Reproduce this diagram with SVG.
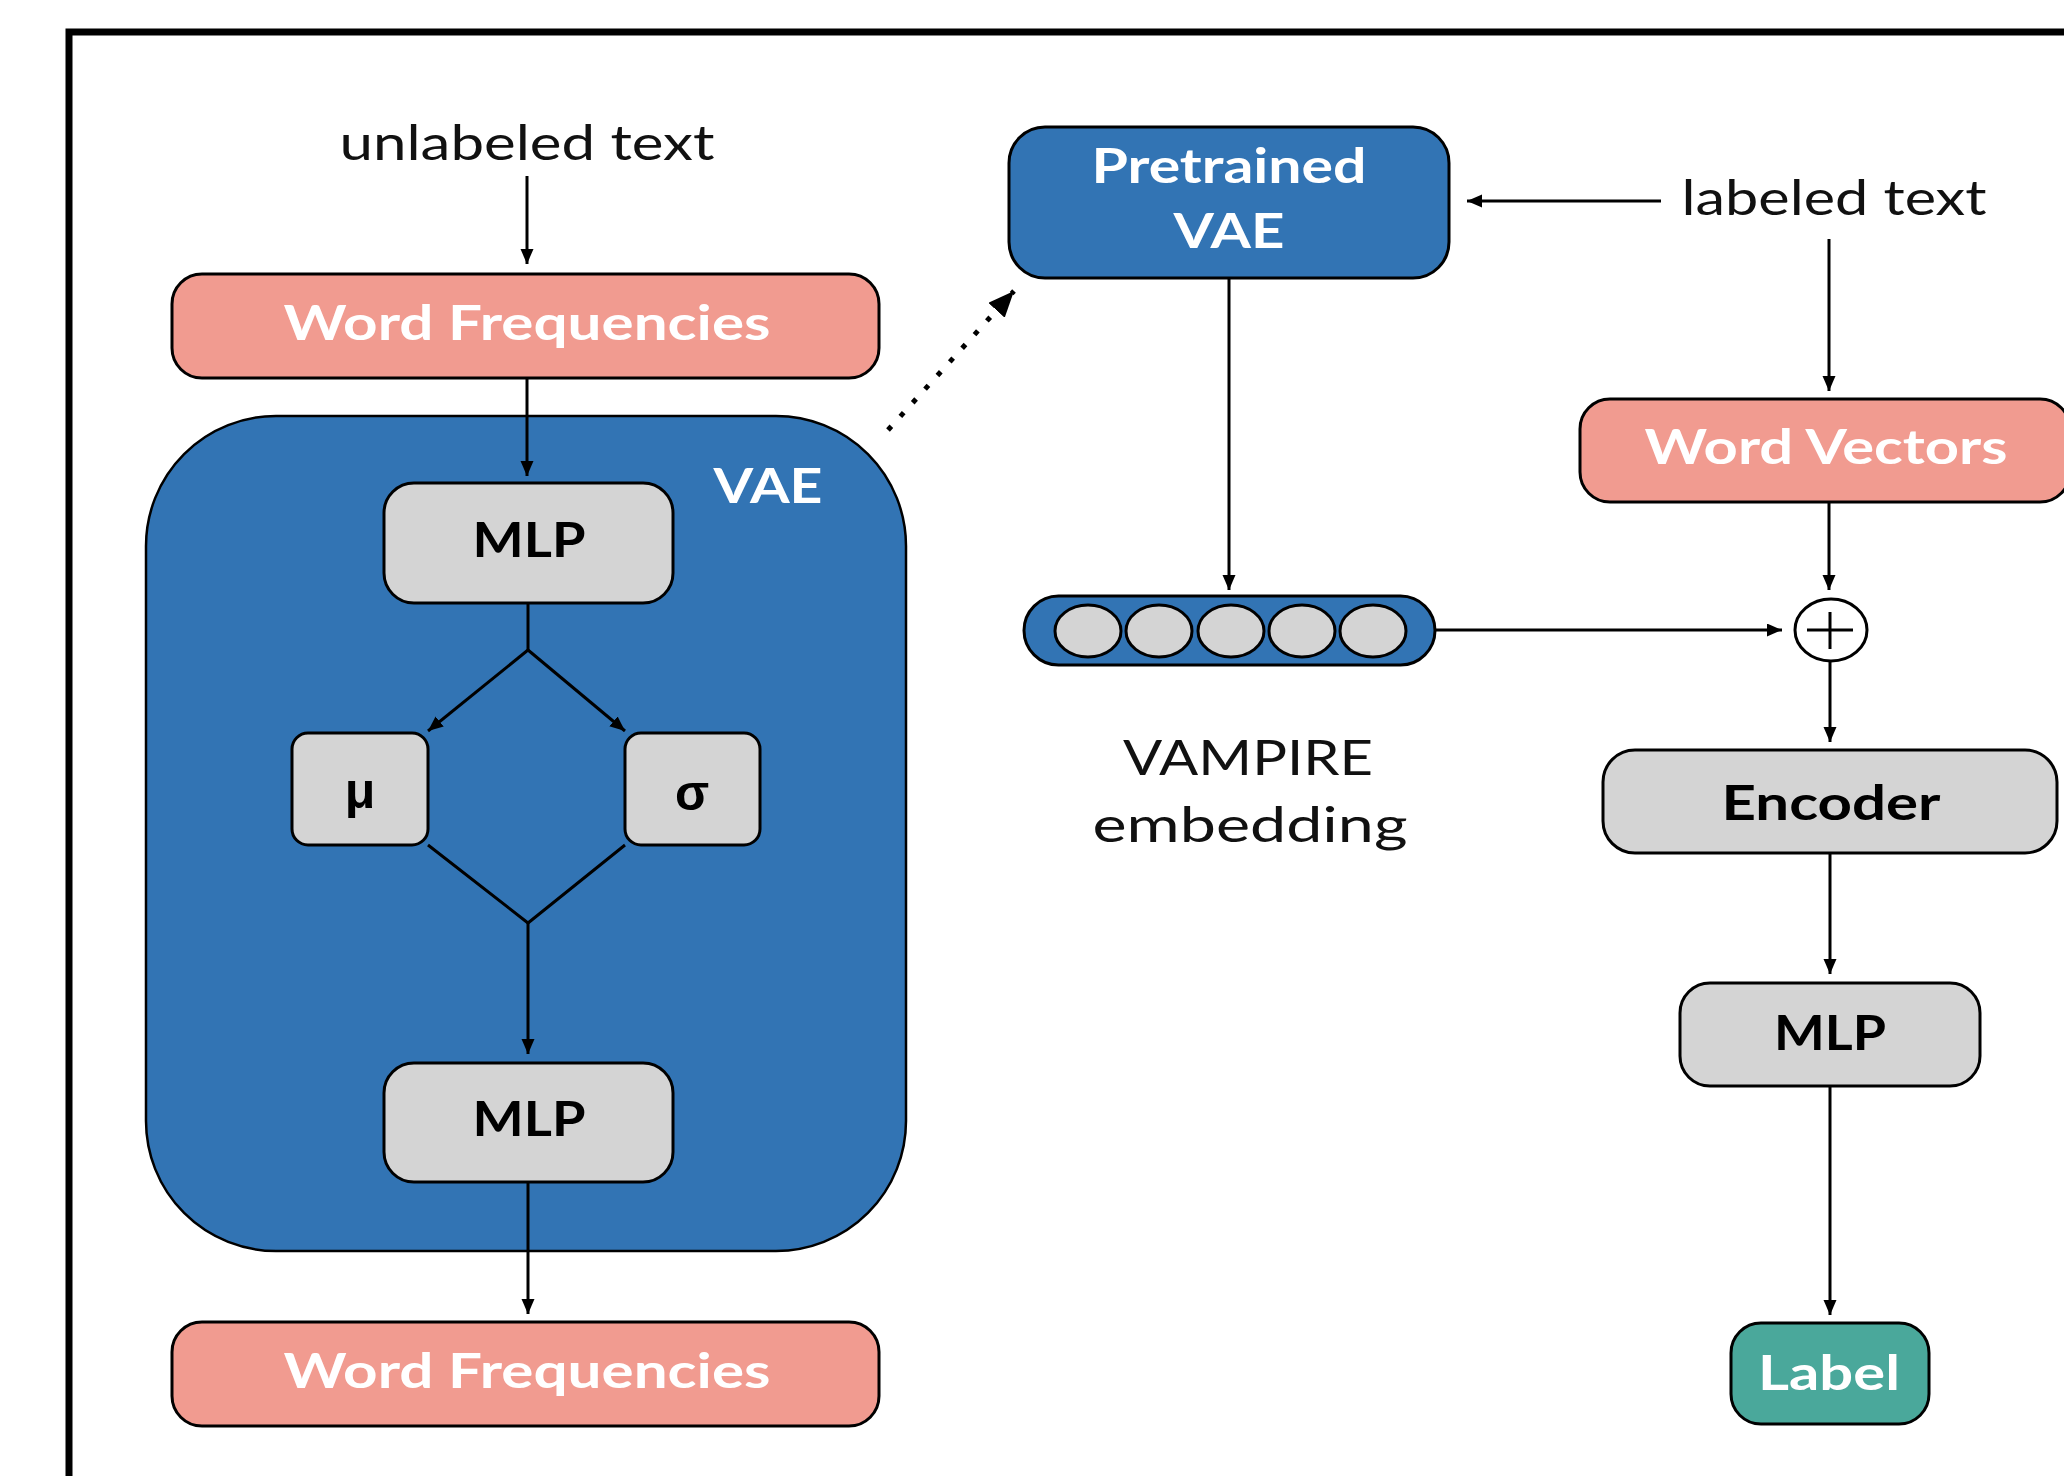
<svg xmlns="http://www.w3.org/2000/svg" width="2064" height="1476" viewBox="0 0 2064 1476">
  <defs>
    <marker id="arrow" markerUnits="userSpaceOnUse" markerWidth="16" markerHeight="14" refX="15" refY="6.5" orient="auto">
      <path d="M0,0 L15,6.5 L0,13 z" fill="#000"/>
    </marker>
    <marker id="arrow-big" markerUnits="userSpaceOnUse" markerWidth="28" markerHeight="24" refX="26" refY="11" orient="auto">
      <path d="M0,0 L26,11 L0,22 z" fill="#000"/>
    </marker>
    <style>
      .frame { fill: none; stroke: #000; stroke-width: 7; }
      .box { stroke: #000; stroke-width: 3; }
      .salmon { fill: #F19B90; }
      .blue { fill: #3274B4; }
      .gray { fill: #D4D4D4; }
      .teal { fill: #4AA89B; }
      .edge { fill: none; stroke: #000; stroke-width: 3; }
      .dotted { fill: none; stroke: #000; stroke-width: 5; stroke-dasharray: 5 13.4; }
      .lbl { font-family: Lato, "Liberation Sans", sans-serif; font-weight: 700; font-size: 47px; text-anchor: middle; }
      .white { fill: #fff; }
      .dark { fill: #000; }
      .plain { font-family: Lato, "Liberation Sans", sans-serif; font-weight: 400; font-size: 48px; text-anchor: middle; fill: #111; }
      .greek { font-family: "Liberation Sans", "DejaVu Sans", sans-serif; font-weight: 700; font-size: 50px; text-anchor: middle; fill: #000; }
    </style>
  </defs>

  <rect width="2064" height="1476" fill="#fff"/>
  <rect class="frame" x="69" y="32" width="2100" height="1500"/>

  <!-- free-standing captions -->
  <g id="unlabeled-text">
    <text class="plain" x="527" y="160" textLength="375" lengthAdjust="spacingAndGlyphs">unlabeled text</text>
  </g>
  <g id="labeled-text">
    <text class="plain" x="1834" y="215" textLength="305" lengthAdjust="spacingAndGlyphs">labeled text</text>
  </g>
  <g id="vampire-caption">
    <text class="plain" x="1248" y="775" textLength="250" lengthAdjust="spacingAndGlyphs">VAMPIRE</text>
    <text class="plain" x="1250" y="842" textLength="315" lengthAdjust="spacingAndGlyphs">embedding</text>
  </g>

  <!-- left column: VAE training -->
  <g id="vae">
    <rect class="blue" stroke="#000" stroke-width="2.5" x="146" y="416" width="760" height="835" rx="130"/>
    <text class="lbl white" x="768" y="503" textLength="109" lengthAdjust="spacingAndGlyphs">VAE</text>
  </g>
  <g id="word-frequencies-in">
    <rect class="box salmon" x="172" y="274" width="707" height="104" rx="30"/>
    <text class="lbl white" x="527" y="340" textLength="487" lengthAdjust="spacingAndGlyphs">Word Frequencies</text>
  </g>
  <g id="mlp-encoder">
    <rect class="box gray" x="384" y="483" width="289" height="120" rx="30"/>
    <text class="lbl dark" x="529" y="557" textLength="113" lengthAdjust="spacingAndGlyphs">MLP</text>
  </g>
  <g id="mu">
    <rect class="box gray" x="292" y="733" width="136" height="112" rx="16"/>
    <text class="greek" x="360" y="808">μ</text>
  </g>
  <g id="sigma">
    <rect class="box gray" x="625" y="733" width="135" height="112" rx="16"/>
    <text class="greek" x="692" y="810">σ</text>
  </g>
  <g id="mlp-decoder">
    <rect class="box gray" x="384" y="1063" width="289" height="119" rx="30"/>
    <text class="lbl dark" x="529" y="1136" textLength="113" lengthAdjust="spacingAndGlyphs">MLP</text>
  </g>
  <g id="word-frequencies-out">
    <rect class="box salmon" x="172" y="1322" width="707" height="104" rx="30"/>
    <text class="lbl white" x="527" y="1388" textLength="487" lengthAdjust="spacingAndGlyphs">Word Frequencies</text>
  </g>

  <!-- middle: pretrained model and embedding -->
  <g id="pretrained-vae">
    <rect class="box blue" x="1009" y="127" width="440" height="151" rx="36"/>
    <text class="lbl white" x="1229" y="183" textLength="275" lengthAdjust="spacingAndGlyphs">Pretrained</text>
    <text class="lbl white" x="1229" y="248" textLength="111" lengthAdjust="spacingAndGlyphs">VAE</text>
  </g>
  <g id="vampire-embedding">
    <rect class="box blue" x="1024" y="596" width="411" height="69" rx="34.5"/>
    <g class="gray" stroke="#000" stroke-width="3">
      <ellipse cx="1088" cy="631" rx="33" ry="26"/>
      <ellipse cx="1159" cy="631" rx="33" ry="26"/>
      <ellipse cx="1231" cy="631" rx="33" ry="26"/>
      <ellipse cx="1302" cy="631" rx="33" ry="26"/>
      <ellipse cx="1373" cy="631" rx="33" ry="26"/>
    </g>
  </g>

  <!-- right column: classifier -->
  <g id="word-vectors">
    <rect class="box salmon" x="1580" y="399" width="490" height="103" rx="30"/>
    <text class="lbl white" x="1826" y="464" textLength="363" lengthAdjust="spacingAndGlyphs">Word Vectors</text>
  </g>
  <g id="concat">
    <ellipse cx="1831" cy="630" rx="36" ry="31" fill="#fff" stroke="#000" stroke-width="3"/>
    <path d="M1807,630 H1853 M1830,612 V649" stroke="#000" stroke-width="3"/>
  </g>
  <g id="encoder">
    <rect class="box gray" x="1603" y="750" width="454" height="103" rx="32"/>
    <text class="lbl dark" x="1831" y="820" textLength="219" lengthAdjust="spacingAndGlyphs">Encoder</text>
  </g>
  <g id="mlp-classifier">
    <rect class="box gray" x="1680" y="983" width="300" height="103" rx="30"/>
    <text class="lbl dark" x="1830" y="1050" textLength="112" lengthAdjust="spacingAndGlyphs">MLP</text>
  </g>
  <g id="label">
    <rect class="box teal" x="1731" y="1323" width="198" height="101" rx="30"/>
    <text class="lbl white" x="1829" y="1390" textLength="142" lengthAdjust="spacingAndGlyphs">Label</text>
  </g>

  <!-- connectors -->
  <g id="connectors">
    <path class="edge" d="M527,176 V264" marker-end="url(#arrow)"/>
    <path class="edge" d="M527,378 V476" marker-end="url(#arrow)"/>
    <path class="edge" d="M528,603 V650"/>
    <path class="edge" d="M528,650 L428,731" marker-end="url(#arrow)"/>
    <path class="edge" d="M528,650 L625,731" marker-end="url(#arrow)"/>
    <path class="edge" d="M428,845 L528,923 L625,845"/>
    <path class="edge" d="M528,923 V1054" marker-end="url(#arrow)"/>
    <path class="edge" d="M528,1182 V1314" marker-end="url(#arrow)"/>
    <path class="dotted" d="M888,430 L1014,291" marker-end="url(#arrow-big)"/>
    <path class="edge" d="M1661,201 H1467" marker-end="url(#arrow)"/>
    <path class="edge" d="M1829,239 V391" marker-end="url(#arrow)"/>
    <path class="edge" d="M1229,278 V590" marker-end="url(#arrow)"/>
    <path class="edge" d="M1829,502 V590" marker-end="url(#arrow)"/>
    <path class="edge" d="M1435,630 H1782" marker-end="url(#arrow)"/>
    <path class="edge" d="M1830,661 V742" marker-end="url(#arrow)"/>
    <path class="edge" d="M1830,853 V974" marker-end="url(#arrow)"/>
    <path class="edge" d="M1830,1086 V1315" marker-end="url(#arrow)"/>
  </g>
</svg>
